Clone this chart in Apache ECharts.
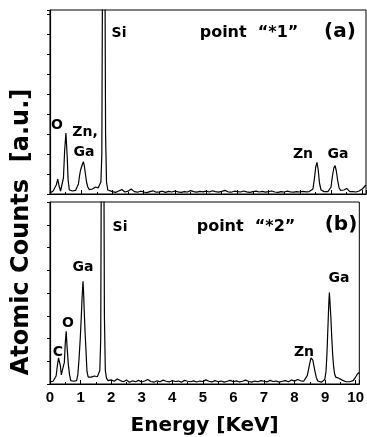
<!DOCTYPE html>
<html>
<head>
<meta charset="utf-8">
<script src="https://cdn.jsdelivr.net/npm/echarts@6/dist/echarts.min.js"></script>
<style>
  html, body { margin: 0; padding: 0; background: #fff; }
  #edxChart { width: 367px; height: 437px; }
</style>
</head>
<body>
<div id="edxChart"></div>
<script>
  // 能谱数据 [Energy keV, counts]，面板 (a) point "*1"
  let lowA = [
    [0.00, 5], [0.05, 10], [0.10, 15], [0.15, 20], [0.20, 45], [0.25, 75], [0.29, 40], [0.34, 15],
    [0.38, 20], [0.43, 80], [0.47, 220], [0.51, 305], [0.55, 190], [0.58, 70], [0.62, 20], [0.67, 10],
    [0.72, 15], [0.77, 12], [0.82, 18], [0.87, 20], [0.91, 50], [0.95, 95], [0.98, 120], [1.01, 125],
    [1.04, 150], [1.07, 162], [1.10, 140], [1.13, 105], [1.17, 60], [1.21, 35], [1.26, 22], [1.31, 18],
    [1.36, 25], [1.41, 20], [1.46, 35], [1.50, 40], [1.54, 30], [1.59, 28], [1.63, 60], [1.66, 200],
    [1.69, 1500], [1.72, 3000], [1.75, 1500], [1.78, 300], [1.81, 60], [1.85, 20], [1.90, 10]
  ];
  let baseA = [
    [2.0, 12], [2.1, 8], [2.2, 15], [2.3, 22], [2.4, 10], [2.5, 14], [2.6, 25], [2.7, 12], [2.8, 9],
    [2.9, 14], [3.0, 10], [3.1, 7], [3.2, 12], [3.3, 16], [3.4, 9], [3.5, 11], [3.6, 14], [3.7, 8],
    [3.8, 13], [3.9, 10], [4.0, 15], [4.1, 11], [4.2, 8], [4.3, 12], [4.4, 10], [4.5, 17], [4.6, 12],
    [4.7, 9], [4.8, 13], [4.9, 11], [5.0, 14], [5.1, 10], [5.2, 16], [5.3, 12], [5.4, 9], [5.5, 13],
    [5.6, 18], [5.7, 11], [5.8, 9], [5.9, 14], [6.0, 12], [6.1, 10], [6.2, 15], [6.3, 11], [6.4, 8],
    [6.5, 12], [6.6, 14], [6.7, 10], [6.8, 13], [6.9, 9], [7.0, 12], [7.1, 15], [7.2, 10], [7.3, 8],
    [7.4, 12], [7.5, 10], [7.6, 14], [7.7, 11], [7.8, 9], [7.9, 12], [8.0, 10], [8.1, 13], [8.2, 11]
  ];
  let highA = [
    [8.30, 12], [8.36, 15], [8.42, 25], [8.47, 80], [8.51, 135], [8.55, 158], [8.59, 120], [8.63, 55],
    [8.68, 20], [8.73, 10], [8.78, 12], [8.84, 8], [8.90, 12], [8.96, 15], [9.00, 35], [9.04, 85],
    [9.09, 130], [9.13, 142], [9.17, 115], [9.21, 70], [9.26, 30], [9.31, 18], [9.36, 15], [9.41, 20],
    [9.46, 26], [9.50, 28], [9.55, 18], [9.60, 12], [9.65, 10], [9.70, 12], [9.75, 8], [9.80, 10],
    [9.85, 12], [9.90, 15], [9.95, 20], [10.00, 25], [10.05, 35], [10.12, 45]
  ];

  // 面板 (b) point "*2"
  let lowB = [
    [0.00, 10], [0.05, 8], [0.10, 12], [0.15, 15], [0.20, 35], [0.24, 80], [0.28, 115], [0.31, 118],
    [0.34, 80], [0.37, 40], [0.40, 45], [0.44, 80], [0.47, 95], [0.50, 180], [0.53, 232], [0.56, 160],
    [0.60, 85], [0.64, 40], [0.68, 15], [0.73, 10], [0.78, 12], [0.83, 10], [0.87, 15], [0.91, 40],
    [0.95, 110], [0.99, 200], [1.02, 285], [1.05, 380], [1.08, 452], [1.10, 400], [1.12, 320], [1.15, 220],
    [1.18, 140], [1.21, 55], [1.25, 30], [1.30, 26], [1.35, 30], [1.40, 22], [1.45, 35], [1.50, 28],
    [1.55, 32], [1.60, 40], [1.63, 60], [1.66, 200], [1.69, 1500], [1.72, 3000], [1.75, 1500], [1.78, 300],
    [1.81, 60], [1.85, 25], [1.90, 15]
  ];
  let baseB = [
    [2.0, 18], [2.1, 12], [2.2, 22], [2.3, 15], [2.4, 10], [2.5, 18], [2.6, 8], [2.7, 14], [2.8, 10],
    [2.9, 16], [3.0, 9], [3.1, 13], [3.2, 20], [3.3, 11], [3.4, 8], [3.5, 14], [3.6, 10], [3.7, 17],
    [3.8, 12], [3.9, 9], [4.0, 15], [4.1, 11], [4.2, 13], [4.3, 8], [4.4, 16], [4.5, 12], [4.6, 10],
    [4.7, 14], [4.8, 9], [4.9, 13], [5.0, 11], [5.1, 18], [5.2, 12], [5.3, 9], [5.4, 15], [5.5, 10],
    [5.6, 13], [5.7, 8], [5.8, 12], [5.9, 16], [6.0, 10], [6.1, 14], [6.2, 9], [6.3, 12], [6.4, 17],
    [6.5, 11], [6.6, 8], [6.7, 13], [6.8, 10], [6.9, 15], [7.0, 12], [7.1, 9], [7.2, 16], [7.3, 11],
    [7.4, 13], [7.5, 8], [7.6, 12], [7.7, 15], [7.8, 10], [7.9, 18], [8.0, 12], [8.1, 20], [8.2, 14]
  ];
  let highB = [
    [8.30, 12], [8.36, 20], [8.42, 38], [8.46, 65], [8.50, 92], [8.54, 115], [8.57, 121], [8.60, 105],
    [8.63, 82], [8.67, 55], [8.71, 30], [8.76, 13], [8.82, 10], [8.88, 8], [8.94, 12], [8.99, 20],
    [9.03, 55], [9.06, 130], [9.09, 240], [9.12, 350], [9.14, 402], [9.16, 360], [9.19, 290], [9.22, 200],
    [9.25, 125], [9.28, 75], [9.31, 45], [9.35, 30], [9.40, 28], [9.45, 25], [9.50, 22], [9.56, 17],
    [9.62, 12], [9.68, 10], [9.74, 8], [9.80, 10], [9.86, 12], [9.92, 15], [9.97, 25], [10.02, 35],
    [10.06, 45], [10.12, 50]
  ];

  let seriesA = lowA.concat(baseA, highA);
  let seriesB = lowB.concat(baseB, highB);

  const BOLD = 'bold';
  const WIDE = '"DejaVu Sans", sans-serif';
  const NARROW = '"Liberation Sans", Arial, sans-serif';

  function xAxisOf(gridIndex, showLabel) {
    return {
      type: 'value',
      gridIndex: gridIndex,
      min: 0,
      max: 10.12,
      interval: 1,
      axisLine: {lineStyle: {color: '#000', width: 1.2}},
      axisTick: {inside: true, length: 4, lineStyle: {color: '#000'}},
      minorTick: {show: true, splitNumber: 2, length: 2, lineStyle: {color: '#000'}},
      splitLine: {show: false},
      axisLabel: {
        show: showLabel,
        showMaxLabel: false,
        margin: 6,
        color: '#000',
        fontSize: 15,
        fontWeight: BOLD,
        fontFamily: NARROW
      },
      name: showLabel ? 'Energy [KeV]' : '',
      nameLocation: 'middle',
      nameGap: 32,
      nameTextStyle: {color: '#000', fontSize: 20, fontWeight: BOLD, fontFamily: WIDE}
    }
  }

  function yAxisOf(gridIndex, max) {
    return {
      type: 'value',
      gridIndex: gridIndex,
      min: 0,
      max: max,
      interval: 100,
      axisLine: {show: true, lineStyle: {color: '#000', width: 1.2}},
      axisTick: {show: true, length: 3, lineStyle: {color: '#000'}},
      axisLabel: {show: false},
      splitLine: {show: false}
    }
  }

  function label(text, x, y, size) {
    return {
      type: 'text',
      x: x,
      y: y,
      style: {
        text: text,
        align: 'center',
        verticalAlign: 'middle',
        fill: '#000',
        fontSize: size || 14,
        fontWeight: BOLD,
        fontFamily: WIDE
      }
    }
  }

  let edxChart = echarts.init(document.getElementById('edxChart'));
  edxChart.setOption({
    animation: false,
    backgroundColor: '#fff',
    grid: [
      {left: 50, right: 1, top: 10, height: 184, show: true, borderColor: '#000', borderWidth: 1},
      {left: 50, right: 1, top: 202, height: 187, show: true, borderColor: '#000', borderWidth: 1}
    ],
    xAxis: [xAxisOf(0, false), xAxisOf(1, true)],
    yAxis: [yAxisOf(0, 920), yAxisOf(1, 800)],
    series: [
      {
        name: 'point *1',
        type: 'line',
        xAxisIndex: 0,
        yAxisIndex: 0,
        data: seriesA,
        symbol: 'none',
        clip: true,
        lineStyle: {color: '#000', width: 1.2}
      },
      {
        name: 'point *2',
        type: 'line',
        xAxisIndex: 1,
        yAxisIndex: 1,
        data: seriesB,
        symbol: 'none',
        clip: true,
        lineStyle: {color: '#000', width: 1.2}
      }
    ],
    graphic: [
      // 纵轴标题
      {
        type: 'text',
        x: 22,
        y: 232,
        rotation: Math.PI / 2,
        style: {
          text: 'Atomic Counts  [a.u.]',
          align: 'center',
          verticalAlign: 'middle',
          fill: '#000',
          fontSize: 24,
          fontWeight: BOLD,
          fontFamily: WIDE
        }
      },
      // (a)
      label('O', 57, 125),
      label('Zn,', 85, 132),
      label('Ga', 84, 152),
      label('Si', 119, 33),
      label('point  \u201c*1\u201d', 249, 33, 16),
      label('(a)', 340, 32, 20),
      label('Zn', 303, 154),
      label('Ga', 338, 154),
      // (b)
      label('Si', 120, 227),
      label('Ga', 83, 267),
      label('O', 68, 323),
      label('C', 58, 352),
      label('point  \u201c*2\u201d', 246, 227, 16),
      label('(b)', 341, 225, 20),
      label('Ga', 339, 278),
      label('Zn', 304, 352)
    ]
  });
</script>
</body>
</html>
